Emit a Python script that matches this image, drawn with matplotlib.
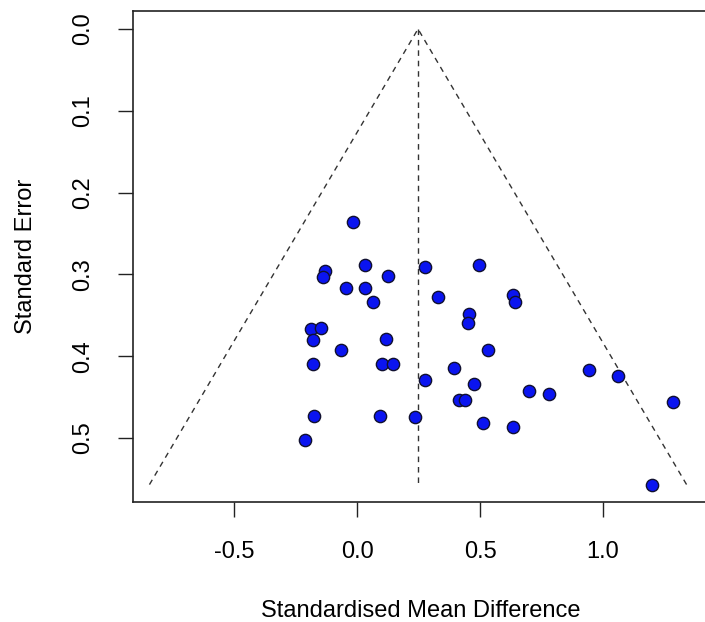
"""Funnel plot: standardised mean difference vs standard error."""
import matplotlib
matplotlib.use('Agg')
import matplotlib.pyplot as plt
import numpy as np

plt.rcParams['font.family'] = ['Liberation Sans', 'DejaVu Sans']

# Study effect sizes (SMD) and their standard errors
smd = [-0.015, -0.131, -0.138, 0.031, 0.126, -0.043, 0.031, 0.064,
       -0.187, -0.146, -0.180, 0.119, -0.066, -0.178, 0.100, 0.145,
       -0.175, 0.095, 0.236, -0.210,
       0.276, 0.496, 0.329, 0.634, 0.642, 0.457, 0.450, 0.534,
       0.393, 0.943, 1.061, 0.276, 0.474, 0.701, 0.782, 0.416,
       0.440, 1.286, 0.512, 0.634, 1.199]
se = [0.236, 0.296, 0.303, 0.289, 0.302, 0.317, 0.317, 0.334,
      0.367, 0.366, 0.380, 0.379, 0.393, 0.410, 0.410, 0.410,
      0.473, 0.473, 0.474, 0.502,
      0.291, 0.288, 0.328, 0.325, 0.334, 0.348, 0.359, 0.393,
      0.414, 0.417, 0.424, 0.429, 0.434, 0.442, 0.446, 0.454,
      0.454, 0.456, 0.482, 0.487, 0.557]
pooled = 0.248
z = 1.96

x_ticks = [-0.5, 0.0, 0.5, 1.0]
y_ticks = [0.0, 0.1, 0.2, 0.3, 0.4, 0.5]

W, H = 705, 622
fig = plt.figure(figsize=(W / 100, H / 100), dpi=100)
ax = fig.add_axes([133 / W, (H - 502) / H, (708 - 133) / W, (502 - 11) / H])

# funnel: pseudo 95% limits around the pooled estimate
se_max = max(se)
funnel_y = [se_max, 0.0, se_max]
funnel_x = [pooled - z * se_max, pooled, pooled + z * se_max]
ax.plot(funnel_x, funnel_y, color='#333333', lw=1.0, dashes=(4, 3.5))
ax.plot([pooled, pooled], [0.0, se_max], color='#333333', lw=1.0, dashes=(4, 3.5))

ax.scatter(smd, se, s=78, color='#0a14f0', edgecolor='#101030', linewidth=1.0, zorder=3)

ax.set_xlim(-0.9106, 1.4268)
ax.set_ylim(0.5783, -0.022)
ax.set_xticks(x_ticks)
ax.set_xticklabels([f'{v:.1f}' for v in x_ticks])
ax.set_yticks(y_ticks)
ax.set_yticklabels([f'{v:.1f}' for v in y_ticks], rotation=90, va='center')

ax.tick_params(length=11, width=1.0, pad=17, labelsize=17, color='#222222')
for sp in ax.spines.values():
    sp.set_linewidth(1.2)
    sp.set_color('#222222')

ax.set_xlabel('Standardised Mean Difference', fontsize=17, labelpad=27)
ax.set_ylabel('Standard Error', fontsize=17, labelpad=25)

fig.savefig('out.png', dpi=100)
